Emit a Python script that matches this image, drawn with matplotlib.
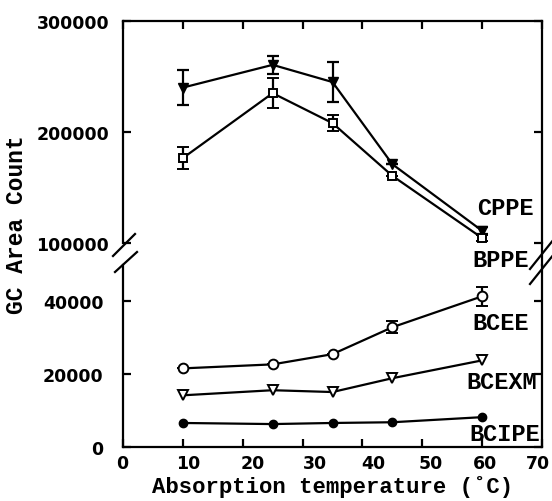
import numpy as np
from matplotlib import pyplot as plt
from matplotlib.lines import Line2D
from matplotlib.transforms import ScaledTranslation

# data
temps = [10, 25, 35, 45, 60]

cppe = [240000, 260500, 245000, 171000, 111000]
cppe_err = [16000, 8000, 18000, 0, 3000]
bppe = [176500, 235000, 208000, 160500, 104500]
bppe_err = [10000, 13500, 7000, 0, 3000]

bcee = [21600, 22700, 25500, 32900, 41400]
bcee_err = [0, 0, 0, 1700, 2600]
bcexm = [14200, 15600, 15100, 18900, 23800]
bcipe = [6600, 6300, 6600, 6800, 8200]

upper_ticks = [100000, 200000, 300000]
lower_ticks = [0, 20000, 40000]
x_ticks = [0, 10, 20, 30, 40, 50, 60, 70]
names = ["CPPE", "BPPE", "BCEE", "BCEXM", "BCIPE"]

W, H = 552, 502
MONO = "Liberation Mono"


def px(x, y):
    # pixel position -> figure fraction
    return x / W, 1 - y / H


def main():
    fig = plt.figure(figsize=(W / 100, H / 100), dpi=100)
    ax_top = fig.add_axes([123 / W, 1 - 244 / H, 419 / W, 222 / H])
    ax_bot = fig.add_axes([123 / W, 1 - 448 / H, 419 / W, 182 / H])

    lw = 1.6
    ekw = dict(color="black", lw=lw, capsize=4, capthick=lw, elinewidth=lw)

    ax_top.errorbar(temps, cppe, yerr=cppe_err, marker="v", ms=7, mfc="black",
                    mec="black", **ekw)
    ax_top.errorbar(temps, bppe, yerr=bppe_err, marker="s", ms=5.5, mfc="white",
                    mec="black", mew=1.4, **ekw)

    ax_bot.errorbar(temps, bcee, yerr=bcee_err, marker="o", ms=7, mfc="white",
                    mec="black", mew=1.4, **ekw)
    ax_bot.plot(temps, bcexm, color="black", lw=lw, marker="v", ms=7,
                mfc="white", mec="black", mew=1.4)
    ax_bot.plot(temps, bcipe, color="black", lw=lw, marker="o", ms=6,
                mfc="black", mec="black")

    for ax in (ax_top, ax_bot):
        ax.set_xlim(0, 70)
        ax.set_xticks(x_ticks)
        for s in ax.spines.values():
            s.set_linewidth(1.6)
        ax.tick_params(direction="in", width=1.6, length=6, top=True,
                       right=True, labelsize=12.5)

    ax_top.set_ylim(100000, 300000)
    ax_top.set_yticks(upper_ticks)
    ax_top.set_yticklabels([str(v) for v in upper_ticks], fontweight="bold",
                           fontsize=12.5)
    ax_top.spines["bottom"].set_visible(False)
    ax_top.tick_params(axis="x", bottom=False, labelbottom=False)
    ax_top.tick_params(axis="y", pad=10)

    ax_bot.set_ylim(0, 50000)
    ax_bot.set_yticks(lower_ticks)
    ax_bot.set_yticklabels([str(v) for v in lower_ticks], fontweight="bold",
                           fontsize=12.5)
    ax_bot.spines["top"].set_visible(False)
    ax_bot.tick_params(axis="x", top=False, pad=5)
    ax_bot.tick_params(axis="y", pad=14)
    ax_bot.set_xticklabels([str(v) for v in x_ticks], fontweight="bold",
                           fontsize=12.5)
    # the scanned labels sit a bit off their ticks
    shifts = [-1, 5, 10, 12, 11, 8, 3, -4]
    for lab, dx in zip(ax_bot.get_xticklabels(), shifts):
        lab.set_transform(lab.get_transform() +
                          ScaledTranslation(dx / 100, 0, fig.dpi_scale_trans))

    ax_bot.set_xlabel("Absorption temperature (\u02daC)", family=MONO,
                      fontweight="bold", fontsize=16, labelpad=2)
    fig.text(*px(17, 225), "GC Area Count", family=MONO, fontweight="bold",
             fontsize=16.5, rotation=90, ha="center", va="center")

    # series names next to the last points
    tk = dict(family=MONO, fontweight="bold", fontsize=17, va="center")
    ax_top.text(59.2, 132400, names[0], clip_on=False, **tk)
    ax_bot.text(58.3, 51500, names[1], clip_on=False, **tk)
    ax_bot.text(58.3, 34200, names[2], clip_on=False, **tk)
    ax_bot.text(57.3, 18100, names[3], clip_on=True, **tk)
    ax_bot.text(57.8, 3600, names[4], clip_on=False, **tk)

    # right spine runs through the gap, plus the break marks
    segs = [((542, 244), (542, 266)),
            ((113, 257), (135, 235)), ((115, 273), (137, 253)),
            ((530, 270), (554, 240)), ((530, 285), (554, 255))]
    for a, b in segs:
        (x0, y0), (x1, y1) = px(*a), px(*b)
        fig.add_artist(Line2D([x0, x1], [y0, y1], color="black", lw=1.6,
                              transform=fig.transFigure))

    fig.savefig("out.png", dpi=100)


if __name__ == '__main__':
    main()
